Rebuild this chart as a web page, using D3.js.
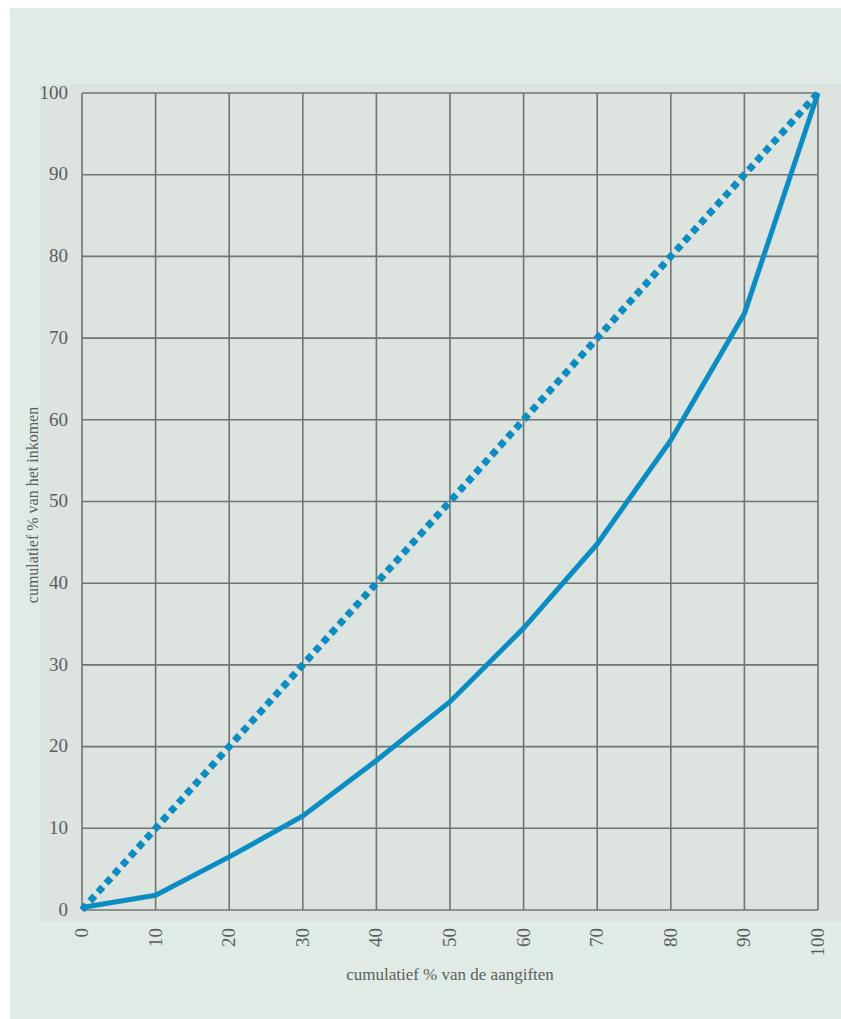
<!DOCTYPE html>
<html>
<head>
<meta charset="utf-8">
<script src="https://cdn.jsdelivr.net/npm/d3@7"></script>
<style>
  html, body { margin: 0; padding: 0; background: #ffffff; }
  svg { display: block; }
  text { font-family: "Liberation Serif", "DejaVu Serif", serif; fill: #5a5f5c; }
</style>
</head>
<body>
<div id="chart"></div>
<script>
const width = 841, height = 1019;

// data
const aangiften = [0, 10, 20, 30, 40, 50, 60, 70, 80, 90, 100];
const inkomen = [0.3, 1.8, 6.5, 11.5, 18.3, 25.5, 34.5, 44.8, 57.5, 73, 100];
const gelijk = [0, 100];
const xTicks = [0, 10, 20, 30, 40, 50, 60, 70, 80, 90, 100];
const yTicks = [0, 10, 20, 30, 40, 50, 60, 70, 80, 90, 100];
const xLabel = "cumulatief % van de aangiften";
const yLabel = "cumulatief % van het inkomen";

const margin = {left: 82, right: 23, top: 93, bottom: 109};

const x = d3.scaleLinear().domain([0, 100]).range([margin.left, width - margin.right]);
const y = d3.scaleLinear().domain([0, 100]).range([height - margin.bottom, margin.top]);

const svg = d3.select('#chart').append("svg")
    .attr("width", width)
    .attr("height", height);

// paper background
svg.append("rect")
    .attr("x", 10).attr("y", 8)
    .attr("width", width - 10).attr("height", height - 8)
    .attr("fill", "#e1ebe5");

svg.append("rect")
    .attr("x", 40).attr("y", 84)
    .attr("width", width - 40).attr("height", 838)
    .attr("fill", "#dde3df");

// grid
const grid = svg.append("g")
    .attr("stroke", "#6f7672")
    .attr("stroke-width", 1.6);

grid.selectAll("line.v")
    .data(xTicks).enter()
    .append("line")
    .attr("class", "v")
    .attr("x1", d => x(d)).attr("x2", d => x(d))
    .attr("y1", y(0)).attr("y2", y(100));

grid.selectAll("line.h")
    .data(yTicks).enter()
    .append("line")
    .attr("class", "h")
    .attr("x1", x(0)).attr("x2", x(100))
    .attr("y1", d => y(d)).attr("y2", d => y(d));

// y tick labels
svg.append("g").selectAll("text")
    .data(yTicks).enter()
    .append("text")
    .attr("x", x(0) - 14)
    .attr("y", d => y(d))
    .attr("dy", "0.3em")
    .attr("text-anchor", "end")
    .attr("font-size", 19)
    .text(d => d);

// x tick labels, rotated
svg.append("g").selectAll("text")
    .data(xTicks).enter()
    .append("text")
    .attr("transform", d => "translate(" + (x(d) + 6) + "," + (y(0) + 18) + ") rotate(-90)")
    .attr("text-anchor", "end")
    .attr("font-size", 19)
    .text(d => d);

// axis titles
svg.append("text")
    .attr("x", 450)
    .attr("y", 980)
    .attr("text-anchor", "middle")
    .attr("font-size", 17)
    .text(xLabel);

svg.append("text")
    .attr("transform", "translate(38," + 505 + ") rotate(-90)")
    .attr("text-anchor", "middle")
    .attr("font-size", 16)
    .text(yLabel);

// equality line (dotted)
const line = d3.line()
    .x(d => x(d[0]))
    .y(d => y(d[1]));

svg.append("path")
    .datum(gelijk.map(v => [v, v]))
    .attr("fill", "none")
    .attr("stroke", "#0b8dc3")
    .attr("stroke-width", 7)
    .attr("stroke-dasharray", "7,5")
    .attr("d", line);

// lorenz curve
svg.append("path")
    .datum(aangiften.map((v, i) => [v, inkomen[i]]))
    .attr("fill", "none")
    .attr("stroke", "#0b8dc3")
    .attr("stroke-width", 5)
    .attr("stroke-linejoin", "round")
    .attr("d", line);
</script>
</body>
</html>
